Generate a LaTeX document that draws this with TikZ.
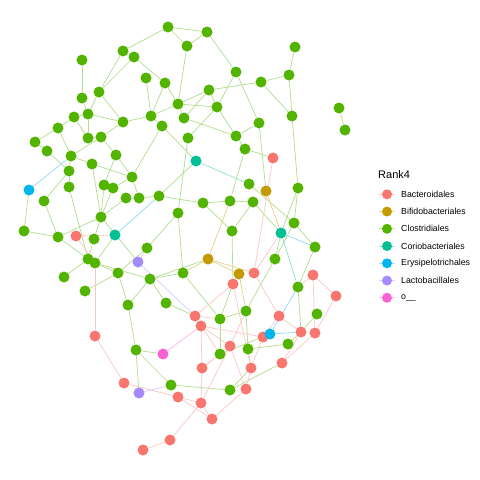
\documentclass[tikz,border=0pt]{standalone}
\usepackage{fontspec}
\setmainfont{Liberation Sans}
\usetikzlibrary{backgrounds}
\definecolor{cR}{HTML}{F8766D}
\definecolor{cB}{HTML}{C49A00}
\definecolor{cG}{HTML}{53B400}
\definecolor{cC}{HTML}{00C094}
\definecolor{cE}{HTML}{00B6EB}
\definecolor{cL}{HTML}{A58AFF}
\definecolor{cO}{HTML}{FB61D7}
\tikzset{
  vtx/.style={circle,inner sep=0pt,minimum size=11pt},
  nG/.style={vtx,fill=cG}, nR/.style={vtx,fill=cR}, nB/.style={vtx,fill=cB},
  nC/.style={vtx,fill=cC}, nE/.style={vtx,fill=cE}, nL/.style={vtx,fill=cL}, nO/.style={vtx,fill=cO},
  eG/.style={draw=cG!45,line width=0.7pt}, eR/.style={draw=cR!40,line width=0.7pt},
  eB/.style={draw=cB!45,line width=0.7pt}, eC/.style={draw=cC!45,line width=0.7pt},
  eE/.style={draw=cE!45,line width=0.7pt}, eL/.style={draw=cL!45,line width=0.7pt},
  eO/.style={draw=cO!45,line width=0.7pt},
  legtxt/.style={anchor=west,font=\fontsize{8.8}{10}\selectfont,inner sep=0pt},
  legdot/.style={circle,inner sep=0pt,minimum size=10pt}
}
\begin{document}
\begin{tikzpicture}[x=1pt,y=-1pt]
\useasboundingbox (0,0) rectangle (480,480);
% green nodes
\foreach \n/\x/\y in {g1/168/27,g2/207/32,g3/187/46,g4/123/51,g5/134/57,g6/295/47,g7/82/60,g8/146/78,g9/165/83,g10/236/72,
g11/261/82,g12/289/75,g13/209/90,g14/82/98,g15/99/92,g16/178/104,g17/217/107,g18/339/108,g19/345/130,g20/74/117,
g21/88/114,g22/151/116,g23/123/122,g24/162/126,g25/184/118,g26/292/116,g27/58/128,g28/259/123,g29/35/142,g30/47/151,
g31/88/138,g32/101/137,g33/188/138,g34/236/136,g35/116/155,g36/71/156,g37/245/149,g38/92/164,g39/69/171,g40/132/177,
g41/249/184,g42/298/188,g43/69/187,g44/104/185,g45/113/188,g46/44/201,g47/126/198,g48/139/198,g49/159/196,g50/203/203,
g51/230/201,g52/253/202,g53/178/213,g54/101/217,g55/294/223,g56/24/231,g57/58/237,g58/94/239,g59/232/231,g60/147/248,
g61/315/247,g62/88/259,g63/95/263,g64/275/259,g65/64/277,g66/118/273,g67/150/279,g68/183/273,g69/298/287,g70/85/291,
g71/128/305,g72/166/303,g73/220/319,g74/246/311,g75/317/314,g76/136/350,g77/220/354,g78/248/349,g79/288/344,g80/171/385,
g81/230/390}
  \node[nG] (\n) at (\x,\y) {};
% red nodes
\foreach \n/\x/\y in {r1/273/158,r2/76/236,r3/254/273,r4/313/275,r5/233/284,r6/336/296,r7/195/316,r8/201/326,r9/279/316,
r10/95/336,r11/263/337,r12/301/332,r13/315/333,r14/230/346,r15/202/368,r16/251/368,r17/282/363,r18/124/383,r19/178/397,
r20/246/389,r21/201/403,r22/212/419,r23/170/440,r24/143/450}
  \node[nR] (\n) at (\x,\y) {};
\node[nB] (b1) at (266,191) {};
\node[nB] (b2) at (208,259) {};
\node[nB] (b3) at (239,274) {};
\node[nC] (c1) at (196,161) {};
\node[nC] (c2) at (115,235) {};
\node[nC] (c3) at (281,233) {};
\node[nE] (e1) at (29,190) {};
\node[nE] (e2) at (270,334) {};
\node[nL] (l1) at (138,262) {};
\node[nL] (l2) at (139,393) {};
\node[nO] (o1) at (163,354) {};
\begin{scope}[on background layer]
\fill[white] (0,0) rectangle (480,480);
\foreach \a/\b in {g1/g2,g1/g3,g1/g4,g2/g3,g2/g10,g3/g16,g4/g15,g5/g15,g5/g9,g7/g14,g8/g22,g9/g22,g9/g16,g10/g17,g10/g28,
g11/g13,g11/g12,g11/g26,g12/g26,g12/g6,g26/g42,g13/g16,g13/g25,g13/g17,g16/g17,g16/g22,g16/g25,g17/g33,g17/g34,g25/g34,
g28/g34,g34/g37,g37/g51,g22/g23,g22/g24,g15/g23,g15/g21,g14/g21,g21/g23,g20/g21,g20/g27,g27/g29,g29/g30,g27/g36,g20/g31,
g21/g31,g31/g32,g23/g32,g32/g36,g32/g35,g35/g40,g35/g44,g24/g40,g36/g39,g39/g43,g30/g39,g36/g38,g38/g40,g38/g54,g40/g45,
g40/g48,g47/g48,g48/g49,g44/g54,g45/g54,g47/g54,g43/g62,g46/g57,g46/g39,g56/g57,g54/g57,g54/g58,g57/g62,g58/g62,g62/g65,
g63/g66,g66/g70,g60/g66,g63/g67,g67/g68,g66/g71,g67/g71,g67/g72,g71/g76,g76/g80,g80/g81,g53/g60,g53/g68,g33/g53,g68/g73,
g49/g50,g50/g51,g51/g52,g50/g59,g52/g59,g41/g55,g42/g55,g55/g64,g55/g61,g61/g69,g64/g74,g74/g78,g78/g79,g73/g74,g73/g77,
g18/g19,
c1/g24,c1/g49,c2/g63,g54/l1,b1/g28,g37/r1,b2/g67,c3/g42,c3/g64,g52/c3,e2/g77,r5/g73,r5/g59,g72/r7,g76/o1,g76/l2,g78/r16,
g81/r17,g81/r16,g75/r12,g79/r12,g69/r12}
  \draw[eG] (\a) -- (\b);
\foreach \a/\b in {r1/r3,r3/r9,r5/r7,r7/r8,r8/r11,r8/r14,r8/r15,r9/r11,r9/r12,r11/r16,r12/r17,r13/r17,r4/r6,r4/r13,r6/r13,
r14/r15,r14/r20,r14/r21,r15/r21,r16/r20,r20/r22,r21/r22,r19/r21,r19/r22,r18/r19,r10/r18,r21/r23,r23/r24,r5/r16,
r2/c2,r2/g63,r10/g63,r3/c3,g73/r7,g74/r14,r8/g77,r15/g77,r4/g69}
  \draw[eR] (\a) -- (\b);
\foreach \a/\b in {b1/c3,b2/g51,b2/b3,b2/r3,b2/g68,b3/g74}
  \draw[eB] (\a) -- (\b);
\foreach \a/\b in {c1/g41,c3/g69}
  \draw[eC] (\a) -- (\b);
\foreach \a/\b in {c2/g49,c3/g61,e1/g36,e2/g69,e2/r12}
  \draw[eE] (\a) -- (\b);
\draw[eG] (e1) -- (g56);
\foreach \a/\b in {l1/g60,l1/r7,l2/g80}
  \draw[eL] (\a) -- (\b);
\draw[eO] (o1) -- (r8);
\end{scope}
% legend
\node[anchor=west,font=\fontsize{11}{13}\selectfont,inner sep=0pt] (ltitle) at (378,175) {Rank4};
\foreach \i/\c/\t in {0/cR/Bacteroidales,1/cB/Bifidobacteriales,2/cG/Clostridiales,3/cC/Coriobacteriales,
4/cE/Erysipelotrichales,5/cL/Lactobacillales,6/cO/o\_\_}{
  \coordinate (kl\i) at (379,194.3+17.25*\i);
  \coordinate (kr\i) at (395,194.3+17.25*\i);
  \draw[draw=\c!40,line width=0.7pt] (kl\i) -- (kr\i);
  \node[legdot,fill=\c] (kd\i) at (387,194.3+17.25*\i) {};
  \node[legtxt] (kt\i) at (401,194.3+17.25*\i) {\t};
}
\end{tikzpicture}
\end{document}
